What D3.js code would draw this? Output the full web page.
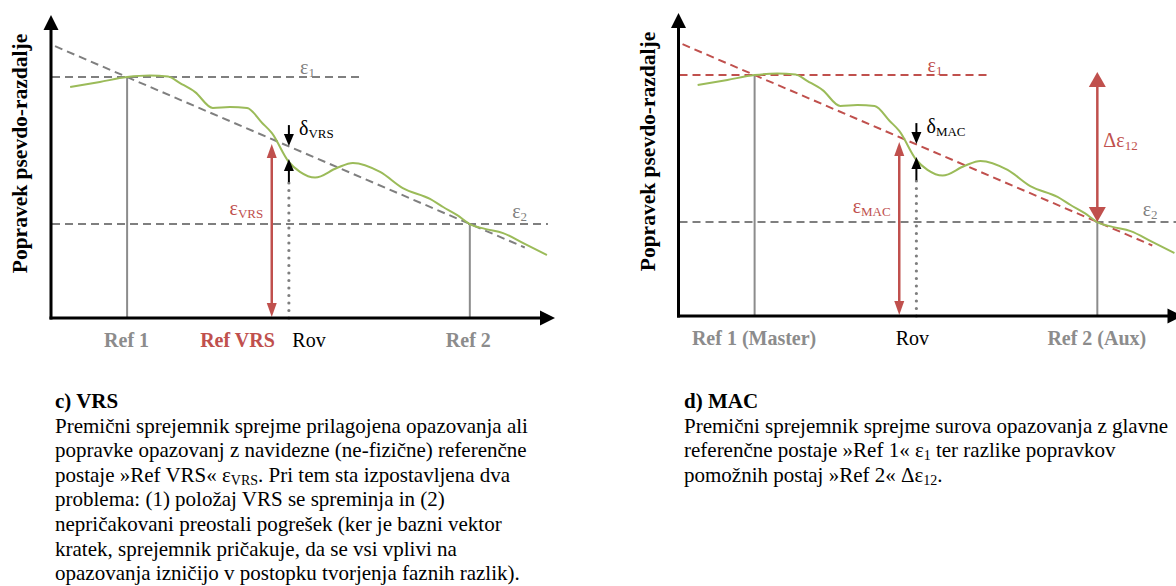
<!DOCTYPE html>
<html>
<head>
<meta charset="utf-8">
<script src="https://cdn.jsdelivr.net/npm/d3@7"></script>
<style>
  body { margin: 0; background: #fff; }
  svg { display: block; font-family: "Liberation Serif", "Times New Roman", serif; }
</style>
</head>
<body>
<svg id="chart" width="1176" height="586"></svg>
<script>
// ---- data (abstract units: x 0..100 along the baseline, y 0..101 correction) ----
const curveX = [3.8, 9.7, 15.1, 19.6, 23.2, 25.6, 28.6, 32.1, 35.5, 38.9, 41.9, 43.8, 47.2, 49.4, 52.4, 56.7, 59.9, 65.3, 69.8, 75.2, 77.8, 80.6, 83.1, 86.1, 89.7, 94.0, 98.4];
const curveY = [77.0, 78.7, 80.3, 80.8, 80.5, 78.3, 75.3, 70.0, 70.3, 70.0, 65.0, 61.7, 52.0, 48.7, 46.8, 50.0, 51.7, 48.7, 43.3, 39.7, 37.0, 34.3, 31.3, 29.7, 28.3, 24.7, 21.0];

const refX = [15.1, 83.1];        // Ref 1, Ref 2
const epsY = [80.3, 31.3];        // eps1, eps2 level
const trendX = [0.8, 94.0];
const trendY = [90.6, 23.5];
const rovX = 47.2;
const rovTop = 45.3;
const corrX = 43.8;               // eps_VRS / eps_MAC arrow
const corrTop = 58;
const deltaTail = [64.3, 45.3];   // top / bottom arrow tails
const deltaTip = [57.3, 53.0];    // top / bottom arrow tips

const ticksVRS = ["Ref 1", "Ref VRS", "Rov", "Ref 2"];
const tickPosVRS = [14.9, 36.9, 51.1, 82.7];
const ticksMAC = ["Ref 1 (Master)", "Rov", "Ref 2 (Aux)"];
const tickPosMAC = [14.9, 46.3, 82.9];

const textVRS = [
  "Premični sprejemnik sprejme prilagojena opazovanja ali",
  "popravke opazovanj z navidezne (ne-fizične) referenčne",
  "postaje »Ref VRS« ε_{VRS}. Pri tem sta izpostavljena dva",
  "problema: (1) položaj VRS se spreminja in (2)",
  "nepričakovani preostali pogrešek (ker je bazni vektor",
  "kratek, sprejemnik pričakuje, da se vsi vplivi na",
  "opazovanja izničijo v postopku tvorjenja faznih razlik)."
];
const textMAC = [
  "Premični sprejemnik sprejme surova opazovanja z glavne",
  "referenčne postaje »Ref 1« ε_{1} ter razlike popravkov",
  "pomožnih postaj »Ref 2« Δε_{12}."
];

const GREEN = "#9bbb59", RED = "#c0504d", GREY = "#8c8c8c", DASH = "#7f7f7f";

const svg = d3.select("#chart");
const x = d3.scaleLinear().domain([0, 100]).range([51, 555]);
const y = d3.scaleLinear().domain([0, 101]).range([318, 15]);

// arrow: line from (x1,y1) to (x2,y2), heads at the end (and start if both)
function arrow(g, x1, y1, x2, y2, o) {
  const ang = Math.atan2(y2 - y1, x2 - x1);
  const head = (tx, ty, a) => {
    const bx = tx - o.l * Math.cos(a), by = ty - o.l * Math.sin(a);
    const px = Math.sin(a) * o.w / 2, py = -Math.cos(a) * o.w / 2;
    g.append("path")
      .attr("d", `M${tx},${ty}L${bx + px},${by + py}L${bx - px},${by - py}Z`)
      .attr("fill", o.color);
  };
  const sx = o.both ? x1 + o.l * 0.8 * Math.cos(ang) : x1;
  const sy = o.both ? y1 + o.l * 0.8 * Math.sin(ang) : y1;
  g.append("line")
    .attr("x1", sx).attr("y1", sy)
    .attr("x2", x2 - o.l * 0.8 * Math.cos(ang)).attr("y2", y2 - o.l * 0.8 * Math.sin(ang))
    .attr("stroke", o.color).attr("stroke-width", o.sw);
  head(x2, y2, ang);
  if (o.both) head(x1, y1, ang + Math.PI);
}

function symText(g, xx, yy, main, sub, color, anchor) {
  const t = g.append("text").attr("x", xx).attr("y", yy)
    .attr("fill", color).attr("font-size", 20).attr("text-anchor", anchor || "start");
  t.append("tspan").text(main);
  t.append("tspan").attr("font-size", 13).attr("dy", 3).text(sub);
}

function dashed(g, x1, y1, x2, y2, color) {
  g.append("line")
    .attr("x1", x(x1)).attr("y1", y(y1)).attr("x2", x(x2)).attr("y2", y(y2))
    .attr("stroke", color).attr("stroke-width", 2).attr("stroke-dasharray", "8,5");
}

function panel(cfg) {
  const g = svg.append("g").attr("transform", `translate(${cfg.dx},${cfg.dy})`);

  // reference station verticals
  refX.forEach((r, i) => {
    g.append("line")
      .attr("x1", x(r)).attr("x2", x(r)).attr("y1", y(0)).attr("y2", y(epsY[i]))
      .attr("stroke", GREY).attr("stroke-width", 2);
  });

  // rover dotted
  g.append("line")
    .attr("x1", x(rovX)).attr("x2", x(rovX)).attr("y1", y(0)).attr("y2", y(rovTop))
    .attr("stroke", DASH).attr("stroke-width", 3.2)
    .attr("stroke-linecap", "round").attr("stroke-dasharray", "0,7.5");

  // dashed levels and trend
  dashed(g, 0.2, epsY[0], 61.8, epsY[0], cfg.eps1Color);
  dashed(g, 0.2, epsY[1], cfg.eps2End, epsY[1], DASH);
  dashed(g, trendX[0], trendY[0], trendX[1], trendY[1], cfg.eps1Color);

  // green correction curve
  const line = d3.line().x(d => x(d[0])).y(d => y(d[1])).curve(d3.curveMonotoneX);
  g.append("path")
    .datum(curveX.map((v, i) => [v, curveY[i]]))
    .attr("d", line)
    .attr("fill", "none").attr("stroke", GREEN).attr("stroke-width", 2);

  // eps arrow at virtual station
  arrow(g, x(corrX), y(0) - 1, x(corrX), y(corrTop),
    { both: true, w: 10, l: 14, sw: 2.5, color: RED });

  // delta arrows
  arrow(g, x(rovX), y(deltaTail[0]), x(rovX), y(deltaTip[0]), { w: 10, l: 12, sw: 2, color: "#000" });
  arrow(g, x(rovX), y(deltaTail[1]), x(rovX), y(deltaTip[1]), { w: 10, l: 12, sw: 2, color: "#000" });

  // delta eps 12 (MAC only)
  if (cfg.deltaEps) {
    arrow(g, x(refX[1]), y(epsY[1]), x(refX[1]), y(epsY[0]) - 3,
      { both: true, w: 17, l: 15, sw: 2.5, color: RED });
    symText(g, x(84.3), y(56.3), "Δε", "12", RED, "start");
  }

  // axes
  g.append("line").attr("x1", x(0) - 1.5).attr("x2", x(100) - 12).attr("y1", y(0)).attr("y2", y(0))
    .attr("stroke", "#000").attr("stroke-width", 3);
  g.append("line").attr("x1", x(0)).attr("x2", x(0)).attr("y1", y(0) + 1.5).attr("y2", y(101) + 12)
    .attr("stroke", "#000").attr("stroke-width", 3);
  arrow(g, x(95), y(0), x(100), y(0), { w: 15, l: 15, sw: 0, color: "#000" });
  arrow(g, x(0), y(95), x(0), y(101), { w: 15, l: 15, sw: 0, color: "#000" });

  const ax = g.append("g")
    .attr("transform", `translate(0,${y(0)})`)
    .call(d3.axisBottom(x).tickValues(cfg.tickPos).tickFormat((d, i) => cfg.ticks[i]).tickSize(0).tickPadding(15));
  ax.select(".domain").remove();
  ax.attr("font-family", null).attr("font-size", 20);
  ax.selectAll(".tick text")
    .attr("fill", (d, i) => cfg.tickColor[i])
    .attr("font-weight", (d, i) => cfg.tickBold[i] ? "bold" : "normal");

  // y title
  g.append("text")
    .attr("transform", `translate(27,${(y(0) + y(101)) / 2 - 13}) rotate(-90)`)
    .attr("text-anchor", "middle").attr("font-weight", "bold").attr("font-size", 21.5)
    .text("Popravek psevdo-razdalje");

  // symbol labels
  symText(g, x(49.4), y(81.3), "ε", "1", cfg.eps1Color, "start");
  symText(g, x(cfg.eps2LabelX), y(33.3), "ε", "2", DASH, "start");
  symText(g, x(42.1), y(34.3), "ε", cfg.sub, RED, "end");
  symText(g, x(49.2), y(61), "δ", cfg.sub, "#000", "start");
}

panel({
  dx: 0, dy: 0, eps1Color: DASH, eps2End: 98.6, eps2LabelX: 91.5, sub: "VRS",
  ticks: ticksVRS, tickPos: tickPosVRS,
  tickColor: [GREY, RED, "#000", GREY], tickBold: [true, true, false, true],
  deltaEps: false
});
panel({
  dx: 627.5, dy: -2, eps1Color: RED, eps2End: 100, eps2LabelX: 92.1, sub: "MAC",
  ticks: ticksMAC, tickPos: tickPosMAC,
  tickColor: [GREY, "#000", GREY], tickBold: [true, false, true],
  deltaEps: true
});

// captions
const LH = 24.6;
function caption(x0, y0, title, lines) {
  svg.append("text").attr("x", x0).attr("y", y0)
    .attr("font-size", 21).attr("font-weight", "bold").text(title);
  lines.forEach((ln, i) => {
    const t = svg.append("text").attr("x", x0).attr("y", y0 + LH * (i + 1)).attr("font-size", 21);
    let shift = 0;
    ln.split(/(_\{[^}]*\})/).forEach(p => {
      if (!p) return;
      if (p.startsWith("_{")) {
        t.append("tspan").attr("font-size", 14).attr("dy", 3 - shift).text(p.slice(2, -1));
        shift = 3;
      } else {
        t.append("tspan").attr("dy", -shift).text(p);
        shift = 0;
      }
    });
  });
}
caption(55, 408, "c) VRS", textVRS);
caption(684, 408, "d) MAC", textMAC);
</script>
</body>
</html>
